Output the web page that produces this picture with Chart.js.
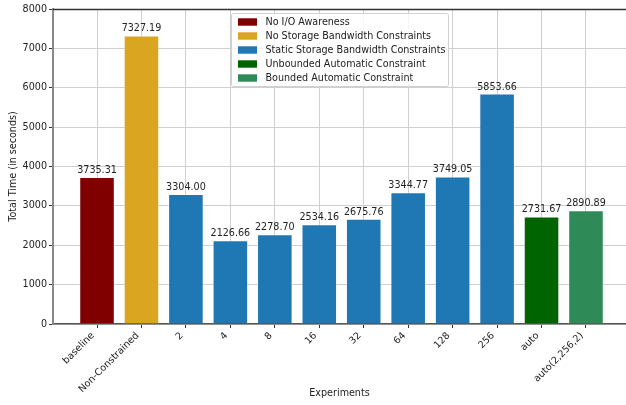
<!DOCTYPE html>
<html>
<head>
<meta charset="utf-8">
<script src="https://cdn.jsdelivr.net/npm/chart.js@4"></script>
<style>
html,body{margin:0;padding:0;background:#fff;overflow:hidden;}
#wrap{width:626px;height:405px;position:relative;}
</style>
</head>
<body>
<div id="wrap"><canvas id="c" width="626" height="405"></canvas></div>
<script>
const categories = ["baseline","Non-Constrained","2","4","8","16","32","64","128","256","auto","auto(2,256,2)"];
const totalTime = [3735.31,7327.19,3304.00,2126.66,2278.70,2534.16,2675.76,3344.77,3749.05,5853.66,2731.67,2890.89];
const groupNames = ["No I/O Awareness","No Storage Bandwidth Constraints","Static Storage Bandwidth Constraints","Unbounded Automatic Constraint","Bounded Automatic Constraint"];
const groupColors = ["#800000","#DAA520","#1f77b4","#006400","#2E8B57"];
const groupOf = [0,1,2,2,2,2,2,2,2,2,3,4];
const yTicks = [0,1000,2000,3000,4000,5000,6000,7000,8000];

const FONT = "'DejaVu Sans', sans-serif";
const FS = 9.6;

const datasets = groupNames.map((name, g) => ({
  label: name,
  data: totalTime.map((v, i) => ({x: i, y: v})).filter((p, i) => groupOf[i] === g),
  backgroundColor: groupColors[g],
  borderColor: 'rgba(255,255,255,0.45)',
  borderWidth: 1,
  grouped: false,
  categoryPercentage: 1.0,
  barPercentage: 0.8
}));

const valueLabels = {
  id: 'valueLabels',
  afterDatasetsDraw(chart) {
    const ctx = chart.ctx;
    ctx.save();
    ctx.font = FS + 'px ' + FONT;
    ctx.fillStyle = '#222';
    ctx.textAlign = 'center';
    ctx.textBaseline = 'alphabetic';
    chart.data.datasets.forEach((ds, di) => {
      const meta = chart.getDatasetMeta(di);
      meta.data.forEach((bar, j) => {
        ctx.fillText(ds.data[j].y.toFixed(2), bar.x, bar.y - 4);
      });
    });
    ctx.restore();
  }
};

const frameAndLegend = {
  id: 'frameAndLegend',
  afterDraw(chart) {
    const ctx = chart.ctx;
    const a = chart.chartArea;
    ctx.save();
    ctx.strokeStyle = '#333';
    ctx.lineWidth = 1.4;
    ctx.beginPath();
    ctx.moveTo(a.left, a.top + 0.5);
    ctx.lineTo(a.right, a.top + 0.5);
    ctx.stroke();
    const lx = 231.5, ly = 13.5, lw = 217, lh = 73;
    ctx.fillStyle = 'rgba(255,255,255,0.8)';
    ctx.strokeStyle = '#d0d0d0';
    ctx.lineWidth = 1;
    ctx.beginPath();
    if (ctx.roundRect) ctx.roundRect(lx, ly, lw, lh, 2); else ctx.rect(lx, ly, lw, lh);
    ctx.fill();
    ctx.stroke();
    ctx.font = FS + 'px ' + FONT;
    ctx.textAlign = 'left';
    ctx.textBaseline = 'middle';
    groupNames.forEach((name, i) => {
      const cy = 22 + i * 14;
      ctx.fillStyle = groupColors[i];
      ctx.fillRect(238, cy - 3.7, 19, 7.4);
      ctx.fillStyle = '#222';
      ctx.fillText(name, 265.5, cy + 0.5);
    });
    ctx.restore();
  }
};

new Chart(document.getElementById('c'), {
  type: 'bar',
  data: { datasets },
  options: {
    responsive: false,
    animation: false,
    layout: { padding: { top: 9, right: 0, left: 0, bottom: 0 } },
    plugins: { legend: { display: false }, tooltip: { enabled: false } },
    scales: {
      x: {
        type: 'linear',
        min: -0.99,
        max: 11.9,
        offset: false,
        afterBuildTicks: s => { s.ticks = categories.map((_, i) => ({ value: i })); },
        afterFit: s => { s.height = 81; },
        ticks: {
          autoSkip: false,
          minRotation: 45,
          maxRotation: 45,
          padding: 2,
          labelOffset: -4,
          color: '#222',
          font: { family: FONT, size: FS },
          callback: v => categories[v] ?? ''
        },
        grid: { offset: false, color: '#cfcfcf', lineWidth: 1, tickLength: 4, tickColor: '#333', drawOnChartArea: true },
        border: { color: '#555', width: 1.5 },
        title: { display: true, text: 'Experiments', color: '#222', font: { family: FONT, size: FS }, padding: { top: 0, bottom: 6 } }
      },
      y: {
        min: 0,
        max: 8000,
        afterBuildTicks: s => { s.ticks = yTicks.map(v => ({ value: v })); },
        afterFit: s => { s.width = 53; },
        ticks: { color: '#222', font: { family: FONT, size: FS }, padding: 2, callback: v => String(v) },
        grid: { offset: false, color: '#cfcfcf', lineWidth: 1, tickLength: 4, tickColor: '#333' },
        border: { color: '#888', width: 2 },
        title: { display: true, text: 'Total Time (in seconds)', color: '#222', font: { family: FONT, size: FS }, padding: { top: 8, bottom: 0 } }
      }
    }
  },
  plugins: [valueLabels, frameAndLegend]
});
</script>
</body>
</html>
